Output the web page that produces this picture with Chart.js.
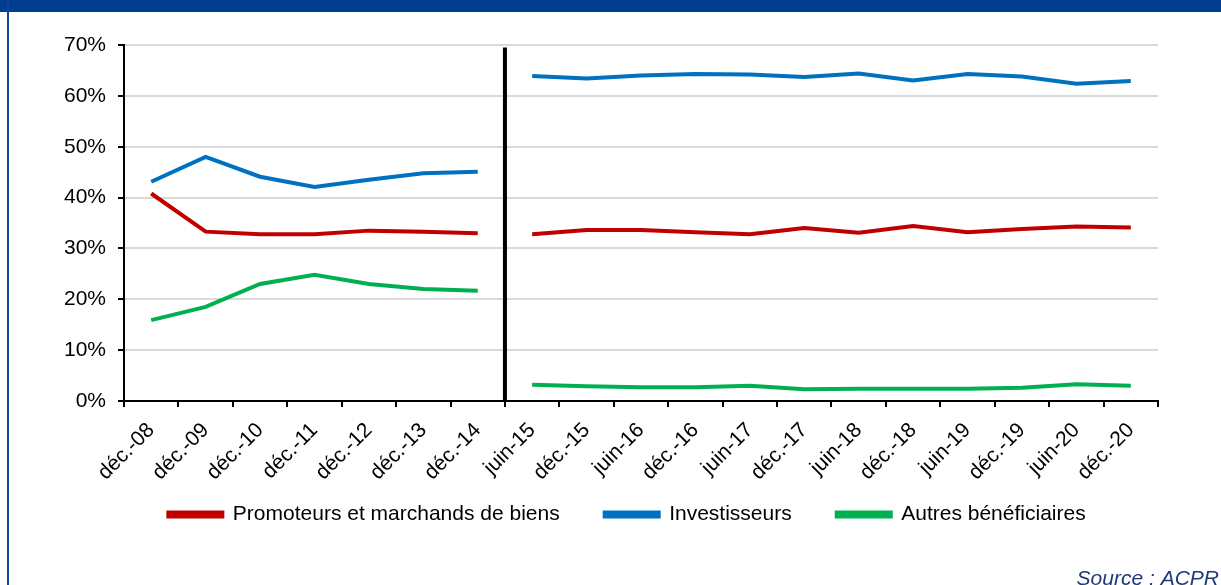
<!DOCTYPE html>
<html lang="fr">
<head>
<meta charset="utf-8">
<script src="https://cdn.jsdelivr.net/npm/chart.js@4.4.0/dist/chart.umd.min.js"></script>
<style>
  html, body { margin:0; padding:0; background:#fff; }
  #wrap { position:relative; width:1221px; height:585px; overflow:hidden; }
  #bandeau { position:absolute; left:0; top:0; width:1221px; height:12px; background:#023d8e; }
  #bord { position:absolute; left:7px; top:0; width:2px; height:585px; background:#0b439a; }
  canvas { position:absolute; left:0; top:0; }
</style>
</head>
<body>
<div id="wrap">
  <canvas id="graphe" width="1221" height="585"></canvas>
  <div id="bandeau"></div>
  <div id="bord"></div>
</div>
<script>
// Données (en %)
const periodes = ["déc.-08","déc.-09","déc.-10","déc.-11","déc.-12","déc.-13","déc.-14",
  "juin-15","déc.-15","juin-16","déc.-16","juin-17","déc.-17","juin-18","déc.-18",
  "juin-19","déc.-19","juin-20","déc.-20"];
const promoteurs = [40.8,33.3,32.8,32.8,33.5,33.3,33.0,
  32.8,33.6,33.6,33.2,32.8,34.0,33.1,34.4,33.2,33.8,34.3,34.1];
const investisseurs = [43.1,48.0,44.1,42.1,43.5,44.8,45.1,
  63.9,63.4,64.0,64.3,64.2,63.7,64.4,63.0,64.3,63.8,62.4,62.9];
const autres = [15.9,18.5,23.0,24.8,23.0,22.0,21.7,
  3.2,2.9,2.7,2.7,3.0,2.3,2.4,2.4,2.4,2.6,3.3,3.0];
const yTicks = [0,10,20,30,40,50,60,70];
const rupture = 6; // dernier point avant le changement de série

const police = "'Liberation Sans', Arial, sans-serif";

// pas de segment entre déc.-14 et juin-15
const coupure = { borderColor: c => c.p0DataIndex === rupture ? 'rgba(0,0,0,0)' : undefined };

function serie(label, data, couleur){
  return { label, data, borderColor: couleur, backgroundColor: couleur,
    borderWidth: 4, pointRadius: 0, tension: 0, fill: false, segment: coupure };
}

// trait vertical noir de rupture + source
const extras = {
  id: 'extras',
  afterLayout(chart){
    // légende un peu décalée vers la droite comme sur l'original
    chart.legend.left += 38;
    chart.legend.right += 38;
    // les étiquettes inclinées débordent sous l'axe : on agrandit la zone de découpe
    chart.scales.x.bottom = chart.scales.x.top + 100;
  },
  afterDatasetsDraw(chart){
    const {ctx, scales:{x, y}} = chart;
    const px = (x.getPixelForValue(rupture) + x.getPixelForValue(rupture+1)) / 2;
    ctx.save();
    ctx.strokeStyle = '#000';
    ctx.lineWidth = 4;
    ctx.beginPath();
    ctx.moveTo(px, y.getPixelForValue(69.5));
    ctx.lineTo(px, y.getPixelForValue(0));
    ctx.stroke();
    ctx.restore();
  },
  afterDraw(chart){
    const ctx = chart.ctx;
    ctx.save();
    ctx.font = "italic 21px " + police;
    ctx.fillStyle = '#1f3a78';
    ctx.textAlign = 'right';
    ctx.textBaseline = 'alphabetic';
    ctx.fillText('Source : ACPR', 1219, 585);
    ctx.restore();
  }
};

new Chart(document.getElementById('graphe'), {
  type: 'line',
  data: {
    labels: periodes,
    datasets: [
      serie('Promoteurs et marchands de biens', promoteurs, '#c00000'),
      serie('Investisseurs', investisseurs, '#0070c0'),
      serie('Autres bénéficiaires', autres, '#00b050')
    ]
  },
  options: {
    responsive: false,
    animation: false,
    layout: { padding: { top: 45, right: 63, left: 20, bottom: 50 } },
    plugins: {
      legend: {
        position: 'bottom',
        labels: { boxWidth: 54, boxHeight: 4, padding: 45, color: '#000',
          font: { family: police, size: 21 } }
      },
      tooltip: { enabled: false }
    },
    scales: {
      x: {
        offset: true,
        grid: { offset: true, drawOnChartArea: false, tickColor: '#000', tickLength: 6, lineWidth: 2 },
        border: { color: '#000', width: 2 },
        ticks: { color: '#000', maxRotation: 45, minRotation: 45, autoSkip: false, padding: 11,
          font: { family: police, size: 21 } },
        afterFit(s){ s.height = 58; }
      },
      y: {
        min: 0, max: 70,
        afterBuildTicks(s){ s.ticks = yTicks.map(v => ({ value: v })); },
        grid: { color: '#d9d9d9', lineWidth: 2, tickColor: '#000', tickLength: 6 },
        border: { color: '#000', width: 2 },
        ticks: { color: '#000', padding: 12, font: { family: police, size: 21 },
          callback: v => v + '%' },
        afterFit(s){ s.width = 104; }
      }
    }
  },
  plugins: [extras]
});
</script>
</body>
</html>
